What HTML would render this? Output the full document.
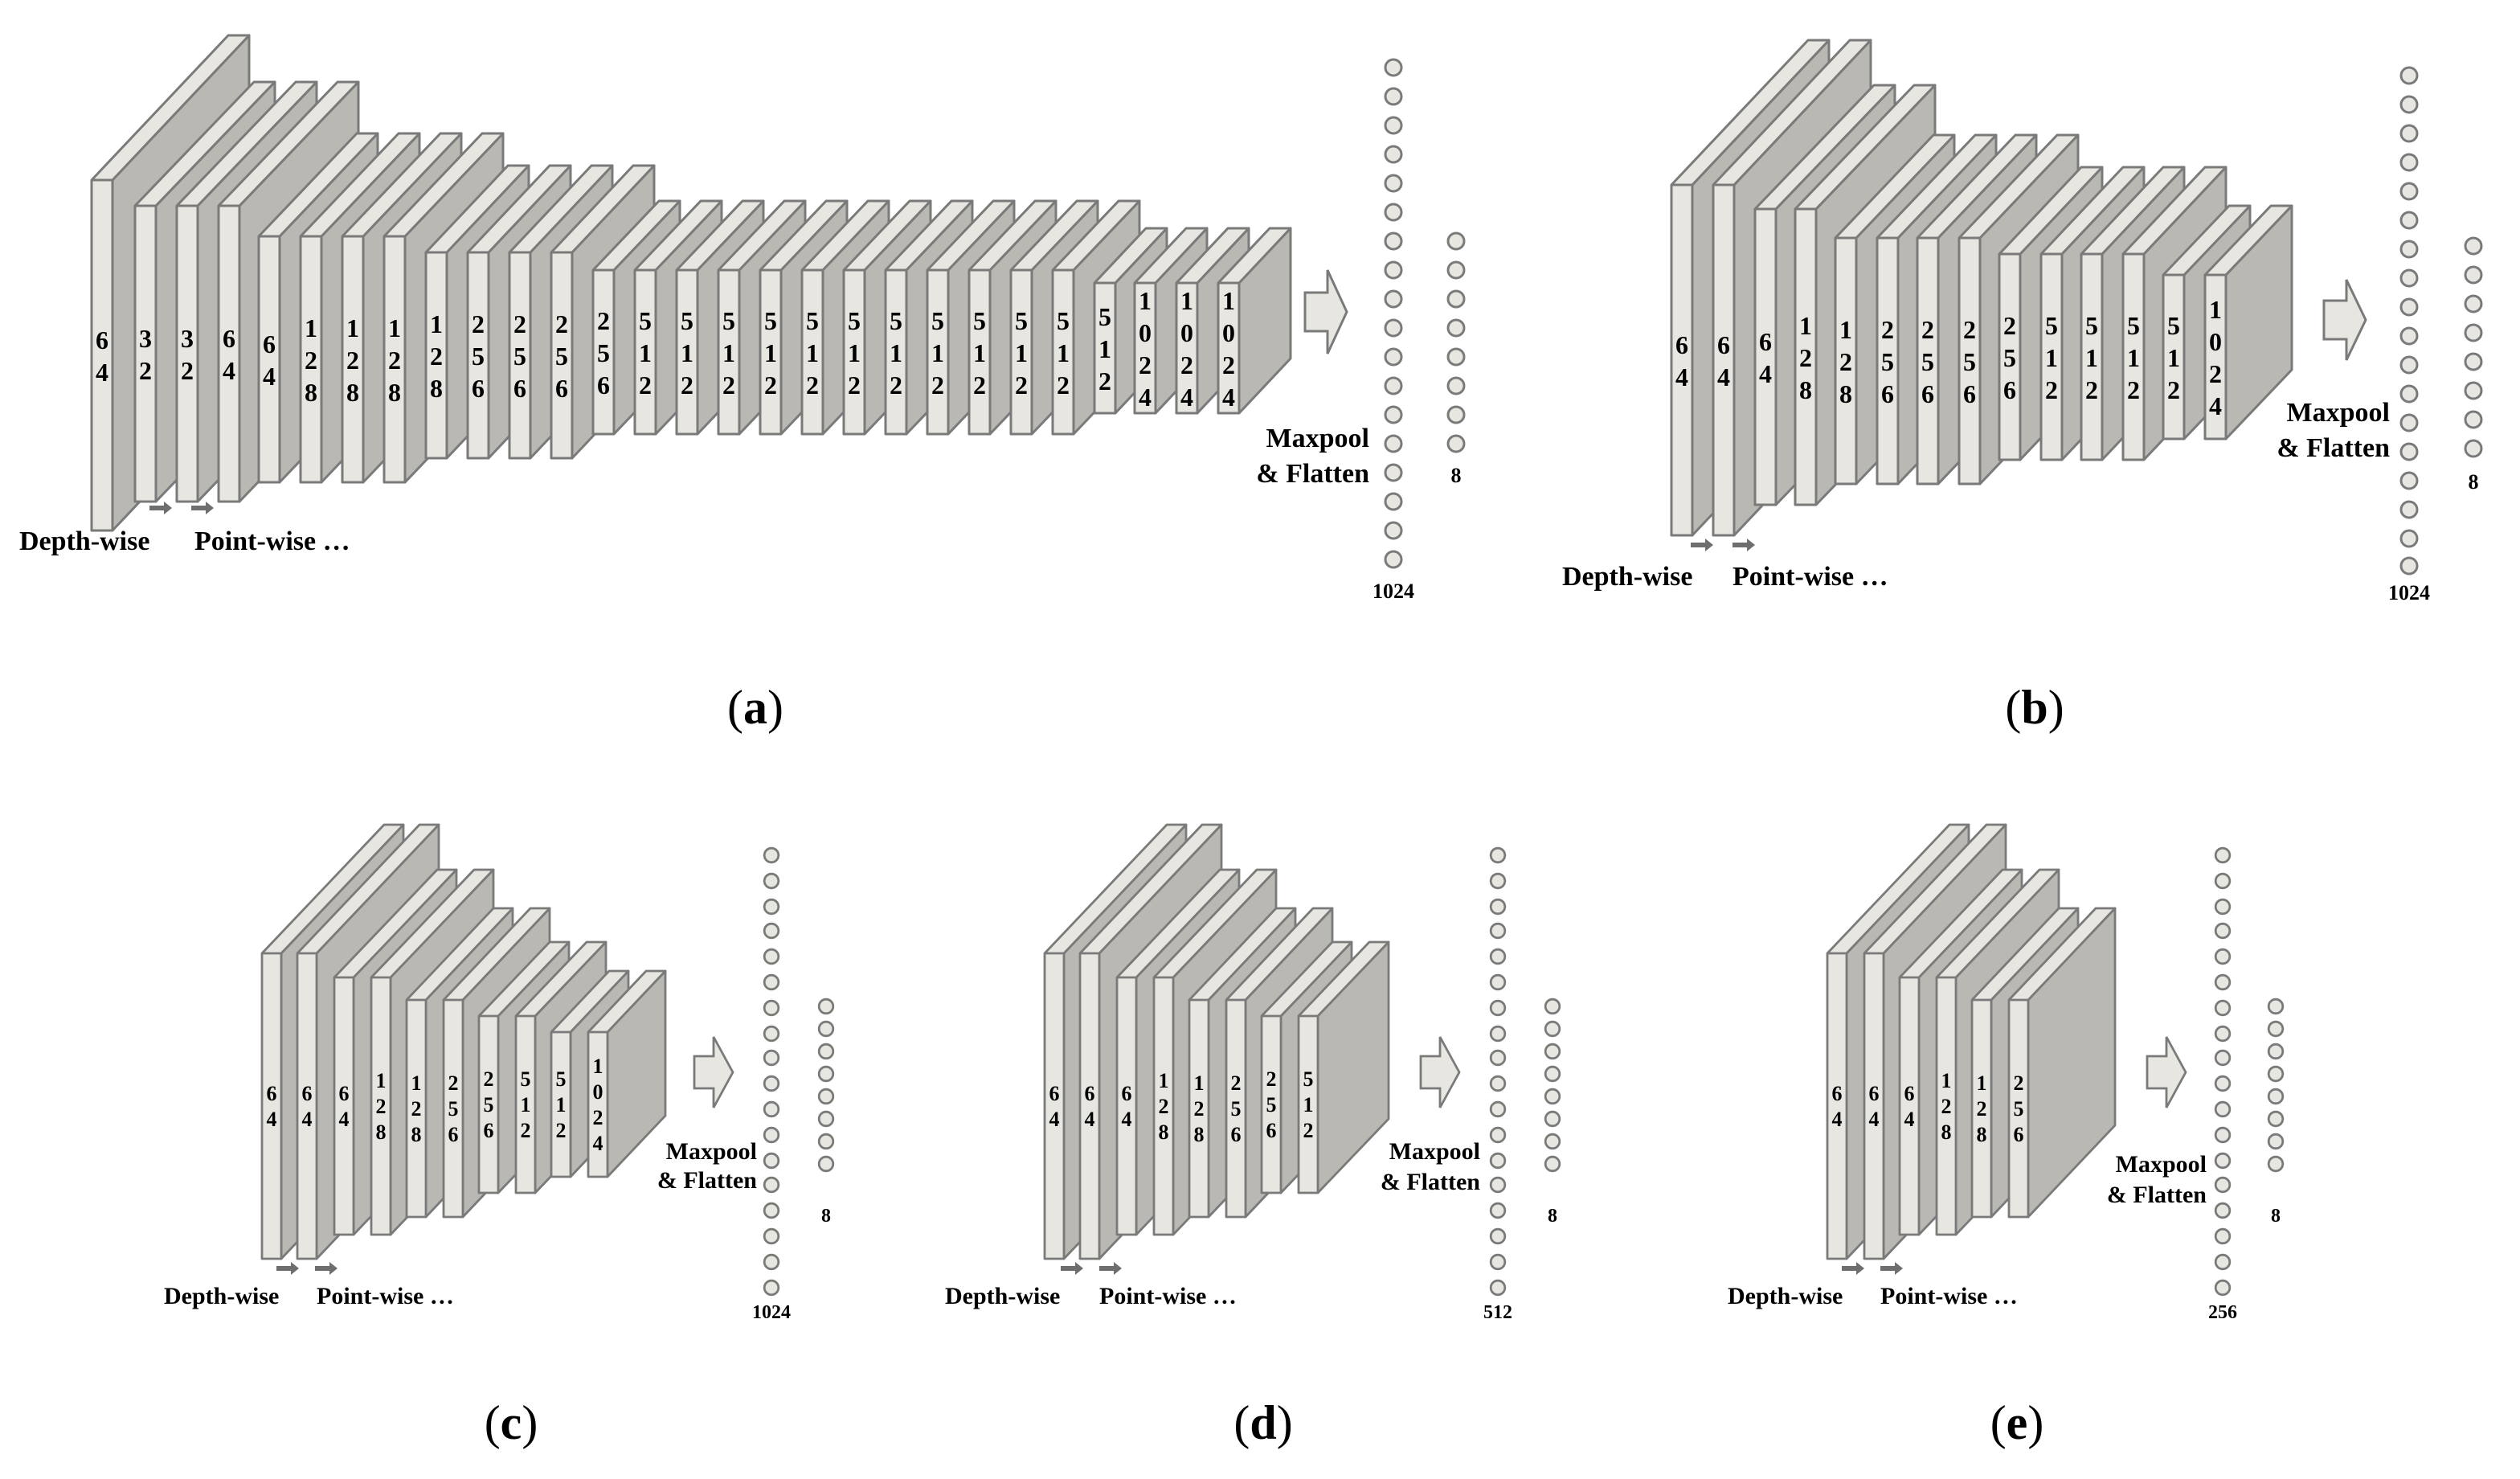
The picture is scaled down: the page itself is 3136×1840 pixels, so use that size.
<!DOCTYPE html>
<html><head><meta charset="utf-8"><style>
html,body{margin:0;padding:0;background:#fff;}
svg{display:block;}
text{font-family:"Liberation Serif",serif;font-weight:bold;fill:#000;}
.d{font-size:16px;text-anchor:middle;}
.s{font-size:13px;text-anchor:middle;}
.t{font-size:17px;}
.ts{font-size:15px;}
.r{text-anchor:end;}
.m{text-anchor:middle;}
.cap{font-size:30px;font-weight:normal;text-anchor:middle;}
</style></head><body>
<svg width="3136" height="1840" viewBox="0 0 1568 920" xmlns="http://www.w3.org/2000/svg">
<defs>
<g id="A218" stroke="#7a7a7a" stroke-width="1.5" stroke-linejoin="round"><path d="M13,0 L98,-90 L98,128 L13,218 Z" fill="#b9b8b3"/><path d="M0,218 L0,0 L85,-90 L98,-90 L13,0 L13,218 Z M0,0 H13" fill="#e8e6e0"/></g>
<g id="A184" stroke="#7a7a7a" stroke-width="1.5" stroke-linejoin="round"><path d="M13,0 L87,-77 L87,107 L13,184 Z" fill="#b9b8b3"/><path d="M0,184 L0,0 L74,-77 L87,-77 L13,0 L13,184 Z M0,0 H13" fill="#e8e6e0"/></g>
<g id="A153" stroke="#7a7a7a" stroke-width="1.5" stroke-linejoin="round"><path d="M13,0 L74,-64 L74,89 L13,153 Z" fill="#b9b8b3"/><path d="M0,153 L0,0 L61,-64 L74,-64 L13,0 L13,153 Z M0,0 H13" fill="#e8e6e0"/></g>
<g id="A128" stroke="#7a7a7a" stroke-width="1.5" stroke-linejoin="round"><path d="M13,0 L64,-54 L64,74 L13,128 Z" fill="#b9b8b3"/><path d="M0,128 L0,0 L51,-54 L64,-54 L13,0 L13,128 Z M0,0 H13" fill="#e8e6e0"/></g>
<g id="A102" stroke="#7a7a7a" stroke-width="1.5" stroke-linejoin="round"><path d="M13,0 L54,-43 L54,59 L13,102 Z" fill="#b9b8b3"/><path d="M0,102 L0,0 L41,-43 L54,-43 L13,0 L13,102 Z M0,0 H13" fill="#e8e6e0"/></g>
<g id="A81" stroke="#7a7a7a" stroke-width="1.5" stroke-linejoin="round"><path d="M13,0 L45,-34 L45,47 L13,81 Z" fill="#b9b8b3"/><path d="M0,81 L0,0 L32,-34 L45,-34 L13,0 L13,81 Z M0,0 H13" fill="#e8e6e0"/></g>
<g id="C190" stroke="#7a7a7a" stroke-width="1.4" stroke-linejoin="round"><path d="M12,0 L88,-80 L88,110 L12,190 Z" fill="#b9b8b3"/><path d="M0,190 L0,0 L76,-80 L88,-80 L12,0 L12,190 Z M0,0 H12" fill="#e8e6e0"/></g>
<g id="C160" stroke="#7a7a7a" stroke-width="1.4" stroke-linejoin="round"><path d="M12,0 L76,-67 L76,93 L12,160 Z" fill="#b9b8b3"/><path d="M0,160 L0,0 L64,-67 L76,-67 L12,0 L12,160 Z M0,0 H12" fill="#e8e6e0"/></g>
<g id="C135" stroke="#7a7a7a" stroke-width="1.4" stroke-linejoin="round"><path d="M12,0 L66,-57 L66,78 L12,135 Z" fill="#b9b8b3"/><path d="M0,135 L0,0 L54,-57 L66,-57 L12,0 L12,135 Z M0,0 H12" fill="#e8e6e0"/></g>
<g id="C110" stroke="#7a7a7a" stroke-width="1.4" stroke-linejoin="round"><path d="M12,0 L56,-46 L56,64 L12,110 Z" fill="#b9b8b3"/><path d="M0,110 L0,0 L44,-46 L56,-46 L12,0 L12,110 Z M0,0 H12" fill="#e8e6e0"/></g>
<g id="C90" stroke="#7a7a7a" stroke-width="1.4" stroke-linejoin="round"><path d="M12,0 L48,-38 L48,52 L12,90 Z" fill="#b9b8b3"/><path d="M0,90 L0,0 L36,-38 L48,-38 L12,0 L12,90 Z M0,0 H12" fill="#e8e6e0"/></g>
<path id="sa" d="M0,-1.5 H9 V-4 L14,0 L9,4 V1.5 H0 Z" fill="#6e6e6e"/>
<circle id="cb" r="5" fill="#e8e6e1" stroke="#7a7a7a" stroke-width="1.5"/>
<circle id="cs" r="4.4" fill="#e8e6e1" stroke="#7a7a7a" stroke-width="1.4"/>
</defs>

<!-- Panel (a) -->
<use href="#A218" x="57" y="112"/>
<use href="#A184" x="84" y="128"/>
<use href="#A184" x="110" y="128"/>
<use href="#A184" x="136" y="128"/>
<use href="#A153" x="161" y="147"/>
<use href="#A153" x="187" y="147"/>
<use href="#A153" x="213" y="147"/>
<use href="#A153" x="239" y="147"/>
<use href="#A128" x="265" y="157"/>
<use href="#A128" x="291" y="157"/>
<use href="#A128" x="317" y="157"/>
<use href="#A128" x="343" y="157"/>
<use href="#A102" x="369" y="168"/>
<use href="#A102" x="395" y="168"/>
<use href="#A102" x="421" y="168"/>
<use href="#A102" x="447" y="168"/>
<use href="#A102" x="473" y="168"/>
<use href="#A102" x="499" y="168"/>
<use href="#A102" x="525" y="168"/>
<use href="#A102" x="551" y="168"/>
<use href="#A102" x="577" y="168"/>
<use href="#A102" x="603" y="168"/>
<use href="#A102" x="629" y="168"/>
<use href="#A102" x="655" y="168"/>
<use href="#A81" x="681" y="176"/>
<use href="#A81" x="706" y="176"/>
<use href="#A81" x="732" y="176"/>
<use href="#A81" x="758" y="176"/>

<text class="d" x="63.5" y="217">6<tspan x="63.5" dy="20">4</tspan></text>
<text class="d" x="90.5" y="216">3<tspan x="90.5" dy="20">2</tspan></text>
<text class="d" x="116.5" y="216">3<tspan x="116.5" dy="20">2</tspan></text>
<text class="d" x="142.5" y="216">6<tspan x="142.5" dy="20">4</tspan></text>
<text class="d" x="167.5" y="219.5">6<tspan x="167.5" dy="20">4</tspan></text>
<text class="d" x="193.5" y="209.5">1<tspan x="193.5" dy="20">2</tspan><tspan x="193.5" dy="20">8</tspan></text>
<text class="d" x="219.5" y="209.5">1<tspan x="219.5" dy="20">2</tspan><tspan x="219.5" dy="20">8</tspan></text>
<text class="d" x="245.5" y="209.5">1<tspan x="245.5" dy="20">2</tspan><tspan x="245.5" dy="20">8</tspan></text>
<text class="d" x="271.5" y="207">1<tspan x="271.5" dy="20">2</tspan><tspan x="271.5" dy="20">8</tspan></text>
<text class="d" x="297.5" y="207">2<tspan x="297.5" dy="20">5</tspan><tspan x="297.5" dy="20">6</tspan></text>
<text class="d" x="323.5" y="207">2<tspan x="323.5" dy="20">5</tspan><tspan x="323.5" dy="20">6</tspan></text>
<text class="d" x="349.5" y="207">2<tspan x="349.5" dy="20">5</tspan><tspan x="349.5" dy="20">6</tspan></text>
<text class="d" x="375.5" y="205">2<tspan x="375.5" dy="20">5</tspan><tspan x="375.5" dy="20">6</tspan></text>
<text class="d" x="401.5" y="205">5<tspan x="401.5" dy="20">1</tspan><tspan x="401.5" dy="20">2</tspan></text>
<text class="d" x="427.5" y="205">5<tspan x="427.5" dy="20">1</tspan><tspan x="427.5" dy="20">2</tspan></text>
<text class="d" x="453.5" y="205">5<tspan x="453.5" dy="20">1</tspan><tspan x="453.5" dy="20">2</tspan></text>
<text class="d" x="479.5" y="205">5<tspan x="479.5" dy="20">1</tspan><tspan x="479.5" dy="20">2</tspan></text>
<text class="d" x="505.5" y="205">5<tspan x="505.5" dy="20">1</tspan><tspan x="505.5" dy="20">2</tspan></text>
<text class="d" x="531.5" y="205">5<tspan x="531.5" dy="20">1</tspan><tspan x="531.5" dy="20">2</tspan></text>
<text class="d" x="557.5" y="205">5<tspan x="557.5" dy="20">1</tspan><tspan x="557.5" dy="20">2</tspan></text>
<text class="d" x="583.5" y="205">5<tspan x="583.5" dy="20">1</tspan><tspan x="583.5" dy="20">2</tspan></text>
<text class="d" x="609.5" y="205">5<tspan x="609.5" dy="20">1</tspan><tspan x="609.5" dy="20">2</tspan></text>
<text class="d" x="635.5" y="205">5<tspan x="635.5" dy="20">1</tspan><tspan x="635.5" dy="20">2</tspan></text>
<text class="d" x="661.5" y="205">5<tspan x="661.5" dy="20">1</tspan><tspan x="661.5" dy="20">2</tspan></text>
<text class="d" x="687.5" y="202.5">5<tspan x="687.5" dy="20">1</tspan><tspan x="687.5" dy="20">2</tspan></text>
<text class="d" x="712.5" y="192.5">1<tspan x="712.5" dy="20">0</tspan><tspan x="712.5" dy="20">2</tspan><tspan x="712.5" dy="20">4</tspan></text>
<text class="d" x="738.5" y="192.5">1<tspan x="738.5" dy="20">0</tspan><tspan x="738.5" dy="20">2</tspan><tspan x="738.5" dy="20">4</tspan></text>
<text class="d" x="764.5" y="192.5">1<tspan x="764.5" dy="20">0</tspan><tspan x="764.5" dy="20">2</tspan><tspan x="764.5" dy="20">4</tspan></text>

<use href="#sa" x="93" y="316"/><use href="#sa" x="119" y="316"/>
<text class="t" x="12" y="342">Depth-wise</text>
<text class="t" x="121" y="342">Point-wise …</text>
<path d="M812,182 H826 V168 L838,194 L826,220 V206 H812 Z" fill="#e8e6e0" stroke="#7a7a7a" stroke-width="1.5"/>
<text class="t r" x="852" y="278">Maxpool</text>
<text class="t r" x="852" y="300">&amp; Flatten</text>
<g>
<use href="#cb" x="867" y="42"/><use href="#cb" x="867" y="60"/><use href="#cb" x="867" y="78"/><use href="#cb" x="867" y="96"/><use href="#cb" x="867" y="114"/><use href="#cb" x="867" y="132"/><use href="#cb" x="867" y="150"/><use href="#cb" x="867" y="168"/><use href="#cb" x="867" y="186"/><use href="#cb" x="867" y="204"/><use href="#cb" x="867" y="222"/><use href="#cb" x="867" y="240"/><use href="#cb" x="867" y="258"/><use href="#cb" x="867" y="276"/><use href="#cb" x="867" y="294"/><use href="#cb" x="867" y="312"/><use href="#cb" x="867" y="330"/><use href="#cb" x="867" y="348"/>
<use href="#cb" x="906" y="150"/><use href="#cb" x="906" y="168"/><use href="#cb" x="906" y="186"/><use href="#cb" x="906" y="204"/><use href="#cb" x="906" y="222"/><use href="#cb" x="906" y="240"/><use href="#cb" x="906" y="258"/><use href="#cb" x="906" y="276"/>
</g>
<text class="m" style="font-size:13px" x="867" y="372">1024</text>
<text class="m" style="font-size:13px" x="906" y="300">8</text>
<text class="cap" x="470" y="450">(<tspan font-weight="bold">a</tspan>)</text>

<!-- Panel (b) -->
<use href="#A218" x="1040" y="115"/>
<use href="#A218" x="1066" y="115"/>
<use href="#A184" x="1092" y="130"/>
<use href="#A184" x="1117" y="130"/>
<use href="#A153" x="1142" y="148"/>
<use href="#A153" x="1168" y="148"/>
<use href="#A153" x="1193" y="148"/>
<use href="#A153" x="1219" y="148"/>
<use href="#A128" x="1244" y="158"/>
<use href="#A128" x="1270" y="158"/>
<use href="#A128" x="1295" y="158"/>
<use href="#A128" x="1321" y="158"/>
<use href="#A102" x="1346" y="171"/>
<use href="#A102" x="1372" y="171"/>
<text class="d" x="1046.5" y="220">6<tspan x="1046.5" dy="20">4</tspan></text>
<text class="d" x="1072.5" y="220">6<tspan x="1072.5" dy="20">4</tspan></text>
<text class="d" x="1098.5" y="218">6<tspan x="1098.5" dy="20">4</tspan></text>
<text class="d" x="1123.5" y="208">1<tspan x="1123.5" dy="20">2</tspan><tspan x="1123.5" dy="20">8</tspan></text>
<text class="d" x="1148.5" y="210.5">1<tspan x="1148.5" dy="20">2</tspan><tspan x="1148.5" dy="20">8</tspan></text>
<text class="d" x="1174.5" y="210.5">2<tspan x="1174.5" dy="20">5</tspan><tspan x="1174.5" dy="20">6</tspan></text>
<text class="d" x="1199.5" y="210.5">2<tspan x="1199.5" dy="20">5</tspan><tspan x="1199.5" dy="20">6</tspan></text>
<text class="d" x="1225.5" y="210.5">2<tspan x="1225.5" dy="20">5</tspan><tspan x="1225.5" dy="20">6</tspan></text>
<text class="d" x="1250.5" y="208">2<tspan x="1250.5" dy="20">5</tspan><tspan x="1250.5" dy="20">6</tspan></text>
<text class="d" x="1276.5" y="208">5<tspan x="1276.5" dy="20">1</tspan><tspan x="1276.5" dy="20">2</tspan></text>
<text class="d" x="1301.5" y="208">5<tspan x="1301.5" dy="20">1</tspan><tspan x="1301.5" dy="20">2</tspan></text>
<text class="d" x="1327.5" y="208">5<tspan x="1327.5" dy="20">1</tspan><tspan x="1327.5" dy="20">2</tspan></text>
<text class="d" x="1352.5" y="208">5<tspan x="1352.5" dy="20">1</tspan><tspan x="1352.5" dy="20">2</tspan></text>
<text class="d" x="1378.5" y="198">1<tspan x="1378.5" dy="20">0</tspan><tspan x="1378.5" dy="20">2</tspan><tspan x="1378.5" dy="20">4</tspan></text>
<use href="#sa" x="1052" y="339"/><use href="#sa" x="1078" y="339"/>
<text class="t" x="972" y="364">Depth-wise</text>
<text class="t" x="1078" y="364">Point-wise …</text>
<path d="M1446,187 H1460 V174 L1472,199 L1460,224 V211 H1446 Z" fill="#e8e6e0" stroke="#7a7a7a" stroke-width="1.5"/>
<text class="t r" x="1487" y="262">Maxpool</text>
<text class="t r" x="1487" y="284">&amp; Flatten</text>
<g>
<use href="#cb" x="1499" y="47"/><use href="#cb" x="1499" y="65"/><use href="#cb" x="1499" y="83"/><use href="#cb" x="1499" y="101"/><use href="#cb" x="1499" y="119"/><use href="#cb" x="1499" y="137"/><use href="#cb" x="1499" y="155"/><use href="#cb" x="1499" y="173"/><use href="#cb" x="1499" y="191"/><use href="#cb" x="1499" y="209"/><use href="#cb" x="1499" y="227"/><use href="#cb" x="1499" y="245"/><use href="#cb" x="1499" y="263"/><use href="#cb" x="1499" y="281"/><use href="#cb" x="1499" y="299"/><use href="#cb" x="1499" y="317"/><use href="#cb" x="1499" y="335"/><use href="#cb" x="1499" y="352"/>
<use href="#cb" x="1539" y="153"/><use href="#cb" x="1539" y="171"/><use href="#cb" x="1539" y="189"/><use href="#cb" x="1539" y="207"/><use href="#cb" x="1539" y="225"/><use href="#cb" x="1539" y="243"/><use href="#cb" x="1539" y="261"/><use href="#cb" x="1539" y="279"/>
</g>
<text class="m" style="font-size:13px" x="1499" y="373">1024</text>
<text class="m" style="font-size:13px" x="1539" y="304">8</text>
<text class="cap" x="1266" y="450">(<tspan font-weight="bold">b</tspan>)</text>

<!-- Panel (c) -->
<use href="#C190" x="163" y="593"/>
<use href="#C190" x="185" y="593"/>
<use href="#C160" x="208" y="608"/>
<use href="#C160" x="231" y="608"/>
<use href="#C135" x="253" y="622"/>
<use href="#C135" x="276" y="622"/>
<use href="#C110" x="298" y="632"/>
<use href="#C110" x="321" y="632"/>
<use href="#C90" x="343" y="642"/>
<use href="#C90" x="366" y="642"/>
<text class="s" x="169" y="684.5">6<tspan x="169" dy="16">4</tspan></text>
<text class="s" x="191" y="684.5">6<tspan x="191" dy="16">4</tspan></text>
<text class="s" x="214" y="684.5">6<tspan x="214" dy="16">4</tspan></text>
<text class="s" x="237" y="676.5">1<tspan x="237" dy="16">2</tspan><tspan x="237" dy="16">8</tspan></text>
<text class="s" x="259" y="678">1<tspan x="259" dy="16">2</tspan><tspan x="259" dy="16">8</tspan></text>
<text class="s" x="282" y="678">2<tspan x="282" dy="16">5</tspan><tspan x="282" dy="16">6</tspan></text>
<text class="s" x="304" y="675.5">2<tspan x="304" dy="16">5</tspan><tspan x="304" dy="16">6</tspan></text>
<text class="s" x="327" y="675.5">5<tspan x="327" dy="16">1</tspan><tspan x="327" dy="16">2</tspan></text>
<text class="s" x="349" y="675.5">5<tspan x="349" dy="16">1</tspan><tspan x="349" dy="16">2</tspan></text>
<text class="s" x="372" y="667.5">1<tspan x="372" dy="16">0</tspan><tspan x="372" dy="16">2</tspan><tspan x="372" dy="16">4</tspan></text>
<use href="#sa" x="172" y="789"/><use href="#sa" x="196" y="789"/>
<text class="ts" x="102" y="811">Depth-wise</text>
<text class="ts" x="197" y="811">Point-wise …</text>
<path d="M432,657 H444 V645 L456,667 L444,689 V677 H432 Z" fill="#e8e6e0" stroke="#7a7a7a" stroke-width="1.4"/>
<text class="ts r" x="471" y="721">Maxpool</text>
<text class="ts r" x="471" y="739">&amp; Flatten</text>
<g>
<use href="#cs" x="480" y="532"/><use href="#cs" x="480" y="548"/><use href="#cs" x="480" y="564"/><use href="#cs" x="480" y="579"/><use href="#cs" x="480" y="595"/><use href="#cs" x="480" y="611"/><use href="#cs" x="480" y="627"/><use href="#cs" x="480" y="643"/><use href="#cs" x="480" y="658"/><use href="#cs" x="480" y="674"/><use href="#cs" x="480" y="690"/><use href="#cs" x="480" y="706"/><use href="#cs" x="480" y="722"/><use href="#cs" x="480" y="737"/><use href="#cs" x="480" y="753"/><use href="#cs" x="480" y="769"/><use href="#cs" x="480" y="785"/><use href="#cs" x="480" y="801"/>
<use href="#cs" x="514" y="626"/><use href="#cs" x="514" y="640"/><use href="#cs" x="514" y="654"/><use href="#cs" x="514" y="668"/><use href="#cs" x="514" y="682"/><use href="#cs" x="514" y="696"/><use href="#cs" x="514" y="710"/><use href="#cs" x="514" y="724"/>
</g>
<text class="m" style="font-size:12px" x="480" y="820">1024</text>
<text class="m" style="font-size:12px" x="514" y="760">8</text>
<text class="cap" x="318" y="895">(<tspan font-weight="bold">c</tspan>)</text>

<!-- Panel (d) -->
<use href="#C190" x="650" y="593"/>
<use href="#C190" x="672" y="593"/>
<use href="#C160" x="695" y="608"/>
<use href="#C160" x="718" y="608"/>
<use href="#C135" x="740" y="622"/>
<use href="#C135" x="763" y="622"/>
<use href="#C110" x="785" y="632"/>
<use href="#C110" x="808" y="632"/>
<text class="s" x="656" y="684.5">6<tspan x="656" dy="16">4</tspan></text>
<text class="s" x="678" y="684.5">6<tspan x="678" dy="16">4</tspan></text>
<text class="s" x="701" y="684.5">6<tspan x="701" dy="16">4</tspan></text>
<text class="s" x="724" y="676.5">1<tspan x="724" dy="16">2</tspan><tspan x="724" dy="16">8</tspan></text>
<text class="s" x="746" y="678">1<tspan x="746" dy="16">2</tspan><tspan x="746" dy="16">8</tspan></text>
<text class="s" x="769" y="678">2<tspan x="769" dy="16">5</tspan><tspan x="769" dy="16">6</tspan></text>
<text class="s" x="791" y="675.5">2<tspan x="791" dy="16">5</tspan><tspan x="791" dy="16">6</tspan></text>
<text class="s" x="814" y="675.5">5<tspan x="814" dy="16">1</tspan><tspan x="814" dy="16">2</tspan></text>
<use href="#sa" x="660" y="789"/><use href="#sa" x="684" y="789"/>
<text class="ts" x="588" y="811">Depth-wise</text>
<text class="ts" x="684" y="811">Point-wise …</text>
<path d="M884,657 H896 V645 L908,667 L896,689 V677 H884 Z" fill="#e8e6e0" stroke="#7a7a7a" stroke-width="1.4"/>
<text class="ts r" x="921" y="721">Maxpool</text>
<text class="ts r" x="921" y="740">&amp; Flatten</text>
<g>
<use href="#cs" x="932" y="532"/><use href="#cs" x="932" y="548"/><use href="#cs" x="932" y="564"/><use href="#cs" x="932" y="579"/><use href="#cs" x="932" y="595"/><use href="#cs" x="932" y="611"/><use href="#cs" x="932" y="627"/><use href="#cs" x="932" y="643"/><use href="#cs" x="932" y="658"/><use href="#cs" x="932" y="674"/><use href="#cs" x="932" y="690"/><use href="#cs" x="932" y="706"/><use href="#cs" x="932" y="722"/><use href="#cs" x="932" y="737"/><use href="#cs" x="932" y="753"/><use href="#cs" x="932" y="769"/><use href="#cs" x="932" y="785"/><use href="#cs" x="932" y="801"/>
<use href="#cs" x="966" y="626"/><use href="#cs" x="966" y="640"/><use href="#cs" x="966" y="654"/><use href="#cs" x="966" y="668"/><use href="#cs" x="966" y="682"/><use href="#cs" x="966" y="696"/><use href="#cs" x="966" y="710"/><use href="#cs" x="966" y="724"/>
</g>
<text class="m" style="font-size:12px" x="932" y="820">512</text>
<text class="m" style="font-size:12px" x="966" y="760">8</text>
<text class="cap" x="786" y="895">(<tspan font-weight="bold">d</tspan>)</text>

<!-- Panel (e) -->
<use href="#C190" x="1137" y="593"/>
<use href="#C190" x="1160" y="593"/>
<use href="#C160" x="1182" y="608"/>
<use href="#C160" x="1205" y="608"/>
<use href="#C135" x="1227" y="622"/>
<use href="#C135" x="1250" y="622"/>
<text class="s" x="1143" y="684.5">6<tspan x="1143" dy="16">4</tspan></text>
<text class="s" x="1166" y="684.5">6<tspan x="1166" dy="16">4</tspan></text>
<text class="s" x="1188" y="684.5">6<tspan x="1188" dy="16">4</tspan></text>
<text class="s" x="1211" y="676.5">1<tspan x="1211" dy="16">2</tspan><tspan x="1211" dy="16">8</tspan></text>
<text class="s" x="1233" y="678">1<tspan x="1233" dy="16">2</tspan><tspan x="1233" dy="16">8</tspan></text>
<text class="s" x="1256" y="678">2<tspan x="1256" dy="16">5</tspan><tspan x="1256" dy="16">6</tspan></text>
<use href="#sa" x="1146" y="789"/><use href="#sa" x="1170" y="789"/>
<text class="ts" x="1075" y="811">Depth-wise</text>
<text class="ts" x="1170" y="811">Point-wise …</text>
<path d="M1336,657 H1348 V645 L1360,667 L1348,689 V677 H1336 Z" fill="#e8e6e0" stroke="#7a7a7a" stroke-width="1.4"/>
<text class="ts r" x="1373" y="729">Maxpool</text>
<text class="ts r" x="1373" y="748">&amp; Flatten</text>
<g>
<use href="#cs" x="1383" y="532"/><use href="#cs" x="1383" y="548"/><use href="#cs" x="1383" y="564"/><use href="#cs" x="1383" y="579"/><use href="#cs" x="1383" y="595"/><use href="#cs" x="1383" y="611"/><use href="#cs" x="1383" y="627"/><use href="#cs" x="1383" y="643"/><use href="#cs" x="1383" y="658"/><use href="#cs" x="1383" y="674"/><use href="#cs" x="1383" y="690"/><use href="#cs" x="1383" y="706"/><use href="#cs" x="1383" y="722"/><use href="#cs" x="1383" y="737"/><use href="#cs" x="1383" y="753"/><use href="#cs" x="1383" y="769"/><use href="#cs" x="1383" y="785"/><use href="#cs" x="1383" y="801"/>
<use href="#cs" x="1416" y="626"/><use href="#cs" x="1416" y="640"/><use href="#cs" x="1416" y="654"/><use href="#cs" x="1416" y="668"/><use href="#cs" x="1416" y="682"/><use href="#cs" x="1416" y="696"/><use href="#cs" x="1416" y="710"/><use href="#cs" x="1416" y="724"/>
</g>
<text class="m" style="font-size:12px" x="1383" y="820">256</text>
<text class="m" style="font-size:12px" x="1416" y="760">8</text>
<text class="cap" x="1255" y="895">(<tspan font-weight="bold">e</tspan>)</text>
</svg>
</body></html>
